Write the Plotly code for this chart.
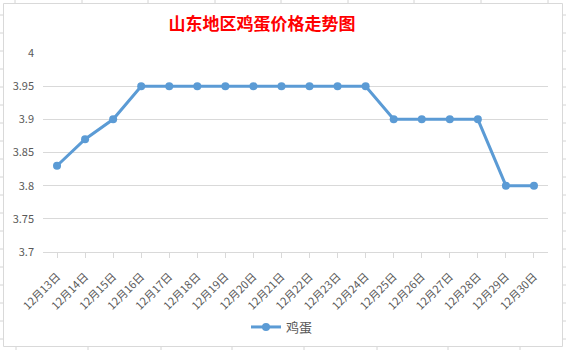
import plotly.graph_objects as go

dates = ["12月13日", "12月14日", "12月15日", "12月16日", "12月17日", "12月18日",
         "12月19日", "12月20日", "12月21日", "12月22日", "12月23日", "12月24日",
         "12月25日", "12月26日", "12月27日", "12月28日", "12月29日", "12月30日"]
prices = [3.83, 3.87, 3.90, 3.95, 3.95, 3.95, 3.95, 3.95, 3.95, 3.95, 3.95, 3.95,
          3.90, 3.90, 3.90, 3.90, 3.80, 3.80]
y_ticks = [3.7, 3.75, 3.8, 3.85, 3.9, 3.95, 4.0]
y_labels = ["3.7", "3.75", "3.8", "3.85", "3.9", "3.95", "4"]

W, H = 566, 350
L, R, T, B = 43, 18, 53, 98
pw, ph = W - L - R, H - T - B

def px(x):
    return (x - L) / pw

def py(y):
    return (H - B - y) / ph

fig = go.Figure()
fig.add_trace(go.Scatter(
    x=list(range(len(dates))), y=prices, mode="lines+markers", name="鸡蛋",
    line=dict(color="#5B9BD5", width=3),
    marker=dict(color="#5B9BD5", size=8),
))

shapes = []
grid = "#d4d4d4"
# spreadsheet cell lines outside the chart
for x in [15, 82, 148, 215, 281, 348, 414, 481, 548]:
    shapes.append(dict(type="line", xref="paper", yref="paper", x0=px(x), x1=px(x),
                       y0=py(0), y1=py(3), line=dict(color=grid, width=1)))
for x in [16, 88, 161, 232, 304, 377, 448, 520]:
    shapes.append(dict(type="line", xref="paper", yref="paper", x0=px(x), x1=px(x),
                       y0=py(347), y1=py(350), line=dict(color=grid, width=1)))
for y in range(15, 350, 18):
    shapes.append(dict(type="line", xref="paper", yref="paper", x0=px(0), x1=px(3),
                       y0=py(y), y1=py(y), line=dict(color=grid, width=1)))
    shapes.append(dict(type="line", xref="paper", yref="paper", x0=px(563), x1=px(566),
                       y0=py(y), y1=py(y), line=dict(color=grid, width=1)))
# chart border
shapes.append(dict(type="rect", xref="paper", yref="paper", x0=px(3.5), x1=px(562.5),
                   y0=py(346.5), y1=py(3.5), line=dict(color="#d9d9d9", width=1),
                   fillcolor="rgba(0,0,0,0)", layer="below"))

fig.update_layout(
    width=W, height=H,
    margin=dict(l=L, r=R, t=T, b=B, autoexpand=False),
    paper_bgcolor="white", plot_bgcolor="white",
    font=dict(family="Noto Sans CJK SC", color="#595959", size=11),
    title=dict(text="<b>山东地区鸡蛋价格走势图</b>", x=262 / W, xref="container",
               xanchor="center", y=1 - 24 / H, yanchor="middle",
               font=dict(family="Noto Sans CJK SC", color="#ff0000", size=17)),
    xaxis=dict(
        tickmode="array", tickvals=list(range(len(dates))), ticktext=dates,
        range=[-0.5, len(dates) - 0.5], tickangle=-45, automargin=False,
        showgrid=False, showline=True, linecolor="#d9d9d9", linewidth=1,
        ticks="outside", tickson="boundaries", ticklen=5, tickcolor="#d9d9d9",
        tickfont=dict(size=11, color="#595959"), zeroline=False,
        ticklabelstandoff=8,
    ),
    yaxis=dict(
        range=[3.7, 4.0], tickmode="array", tickvals=y_ticks, ticktext=y_labels,
        showgrid=True, gridcolor="#d9d9d9", gridwidth=1, showline=False,
        zeroline=False, ticks="", ticklabelstandoff=8, automargin=False,
        tickfont=dict(size=11, color="#595959"),
    ),
    showlegend=True,
    legend=dict(orientation="h", x=px(282), xanchor="center", y=py(327), yanchor="middle",
                font=dict(size=13, color="#595959"), bgcolor="rgba(0,0,0,0)"),
    shapes=shapes,
)

fig.write_html("out.html")
